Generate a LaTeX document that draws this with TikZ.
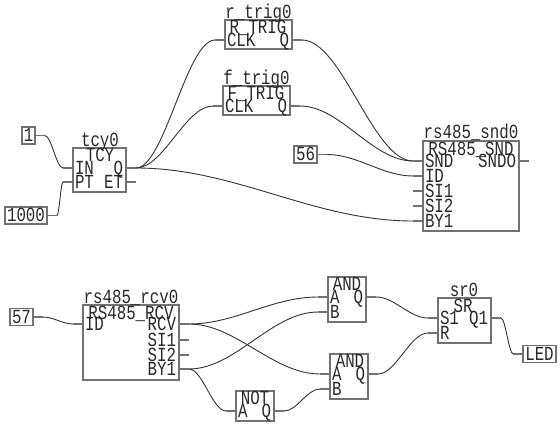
\documentclass[tikz,border=0pt]{standalone}
\usepackage{fontspec}
\setmonofont[FakeStretch=0.79]{Liberation Mono}
\usetikzlibrary{calc}
\definecolor{boxgray}{HTML}{727272}
\definecolor{wiregray}{HTML}{333333}
\definecolor{textgray}{HTML}{2A2A2A}
\tikzset{
  every node/.style={outer sep=0pt},
  fbd/.style={text=textgray, inner sep=0pt, text height=12pt, text depth=0pt,
    font=\fontsize{20}{20}\ttfamily\selectfont},
  blockbox/.style={draw=boxgray, line width=1.9pt, fill=white, inner sep=0pt, anchor=north west},
  constbox/.style={fbd, draw=boxgray, line width=1.9pt, fill=white, inner xsep=2pt, text height=12pt, minimum height=17pt},
  pinl/.style={fbd, anchor=west, inner xsep=2pt},
  pinr/.style={fbd, anchor=east, inner xsep=3pt},
  stub/.style={draw=boxgray, line width=1.5pt},
  wire/.style={draw=wiregray, line width=0.9pt},
}
\newcommand{\wire}[2]{
  \coordinate (wa) at ($(#1)+(10,0)$);
  \coordinate (wb) at ($(#2)+(-10,0)$);
  \draw[stub] (#1) -- (wa);
  \draw[stub] (wb) -- (#2);
  \draw[wire] (wa) .. controls (wa -| {$(wa)!0.36!(wb)$}) and (wb -| {$(wa)!0.64!(wb)$}) .. (wb);
}
\begin{document}
\begin{tikzpicture}[x=1pt, y=-1pt]
  \useasboundingbox (0,0) rectangle (560,426);

  % Timer
  \node[blockbox, minimum width=53pt, minimum height=44pt] (tcy) at (73,148) {};
  \node[fbd] (tcyname) at (100,140) {tcy0};
  \node[fbd] (tcytype) at (100,155) {TCY};
  \node[pinl] (tcyIN) at (73,168) {IN};
  \node[pinl] (tcyPT) at (73,182) {PT};
  \node[pinr] (tcyQ) at (126,168) {Q};
  \node[pinr] (tcyET) at (126,182) {ET};

  % Constants
  \node[constbox, inner xsep=1.5pt] (constone) at (28.5,135.5) {1};
  \node[constbox] (constkilo) at (26,215.5) {1000};
  \node[constbox] (constsnd) at (305.5,154.5) {56};
  \node[constbox] (constrcv) at (21.5,317) {57};

  % Rising edge
  \node[blockbox, minimum width=67pt, minimum height=29pt] (rtrig) at (225,20) {};
  \node[fbd] (rtrigname) at (258.5,12) {r\_trig0};
  \node[fbd] (rtrigtype) at (258,27.5) {R\_TRIG};
  \node[pinl] (rtrigCLK) at (225,40) {CLK};
  \node[pinr] (rtrigQ) at (292,40) {Q};

  % Falling edge
  \node[blockbox, minimum width=67pt, minimum height=29pt] (ftrig) at (223,86) {};
  \node[fbd] (ftrigname) at (256.5,78) {f\_trig0};
  \node[fbd] (ftrigtype) at (256,93.5) {F\_TRIG};
  \node[pinl] (ftrigCLK) at (223,106) {CLK};
  \node[pinr] (ftrigQ) at (290,106) {Q};

  % Sender
  \node[blockbox, minimum width=96pt, minimum height=90pt] (snd) at (423,141) {};
  \node[fbd] (sndname) at (471,132) {rs485\_snd0};
  \node[fbd] (sndtype) at (471,149) {RS485\_SND};
  \node[pinl] (sndSND) at (423,161) {SND};
  \node[pinl] (sndID) at (423,176) {ID};
  \node[pinl] (sndSIa) at (423,191) {SI1};
  \node[pinl] (sndSIb) at (423,206) {SI2};
  \node[pinl] (sndBY) at (423,221) {BY1};
  \node[pinr] (sndO) at (519,161) {SNDO};

  % Receiver
  \node[blockbox, minimum width=96pt, minimum height=75pt] (rcv) at (83,305) {};
  \node[fbd] (rcvname) at (131,297) {rs485\_rcv0};
  \node[fbd] (rcvtype) at (131,313) {RS485\_RCV};
  \node[pinl] (rcvID) at (83,324) {ID};
  \node[pinr] (rcvRCV) at (179,324) {RCV};
  \node[pinr] (rcvSIa) at (179,340) {SI1};
  \node[pinr] (rcvSIb) at (179,355) {SI2};
  \node[pinr] (rcvBY) at (179,369) {BY1};

  % Logic
  \node[blockbox, minimum width=38pt, minimum height=45pt] (anda) at (328,277) {};
  \node[fbd] (andatype) at (347,284) {AND};
  \node[pinl] (andaA) at (328,297) {A};
  \node[pinl] (andaB) at (328,312) {B};
  \node[pinr] (andaQ) at (366,297) {Q};

  \node[blockbox, minimum width=38pt, minimum height=45pt] (andb) at (330,354) {};
  \node[fbd] (andbtype) at (350,361) {AND};
  \node[pinl] (andbA) at (330,374) {A};
  \node[pinl] (andbB) at (330,389) {B};
  \node[pinr] (andbQ) at (368,374) {Q};

  \node[blockbox, minimum width=38pt, minimum height=30pt] (inv) at (236,391) {};
  \node[fbd] (invtype) at (255,398) {NOT};
  \node[pinl] (invA) at (236,411) {A};
  \node[pinr] (invQ) at (274,411) {Q};

  % Latch
  \node[blockbox, minimum width=53pt, minimum height=45pt] (sr) at (438,298) {};
  \node[fbd] (srname) at (464,290) {sr0};
  \node[fbd] (srtype) at (463,306) {SR};
  \node[pinl] (srS) at (438,318) {S1};
  \node[pinl] (srR) at (438,333) {R};
  \node[pinr] (srQ) at (491,318) {Q1};

  % Output
  \node[constbox] (led) at (539.5,354) {LED};

  % Wires
  \wire{constone.east}{tcyIN.west}
  \wire{constkilo.east}{tcyPT.west}
  \wire{tcyQ.east}{rtrigCLK.west}
  \wire{tcyQ.east}{ftrigCLK.west}
  \wire{tcyQ.east}{sndBY.west}
  \wire{rtrigQ.east}{sndSND.west}
  \wire{ftrigQ.east}{sndSND.west}
  \wire{constsnd.east}{sndID.west}
  \wire{constrcv.east}{rcvID.west}
  \wire{rcvRCV.east}{andaA.west}
  \wire{rcvRCV.east}{andbA.west}
  \wire{rcvBY.east}{andaB.west}
  \wire{rcvBY.east}{invA.west}
  \wire{invQ.east}{andbB.west}
  \wire{andaQ.east}{srS.west}
  \wire{andbQ.east}{srR.west}
  \wire{srQ.east}{led.west}

  % Open pins
  \draw[stub] (tcyET.east) -- ++(10,0);
  \draw[stub] (sndO.east) -- ++(10,0);
  \draw[stub] (sndSIa.west) -- ++(-10,0);
  \draw[stub] (sndSIb.west) -- ++(-10,0);
  \draw[stub] (rcvSIa.east) -- ++(10,0);
  \draw[stub] (rcvSIb.east) -- ++(10,0);
\end{tikzpicture}
\end{document}
